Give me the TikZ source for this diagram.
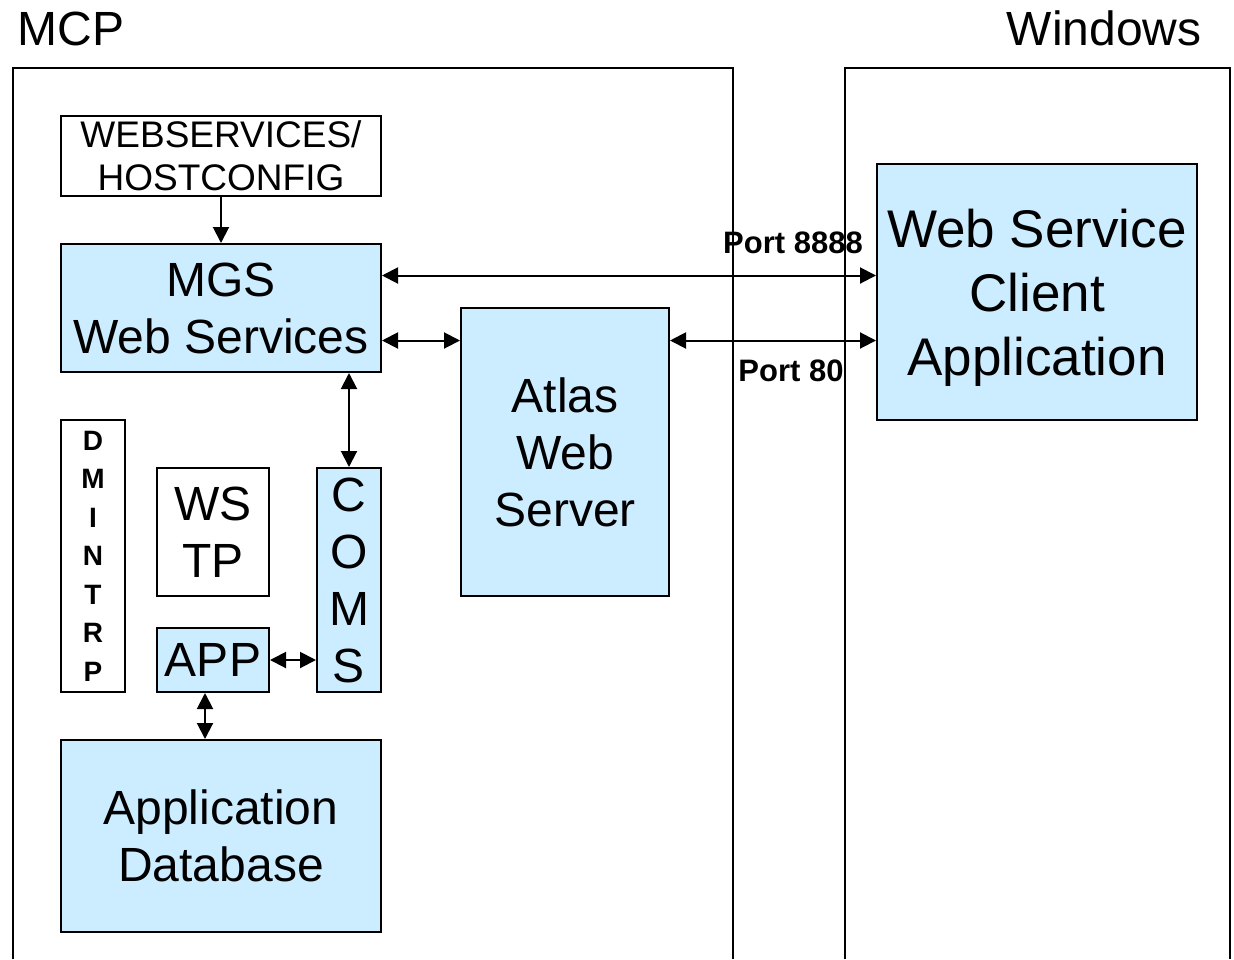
\documentclass[tikz,border=0pt]{standalone}
\usepackage{fontspec}
\setmainfont{Liberation Sans}
\usepackage{xcolor}
\definecolor{wsblue}{RGB}{204, 236, 255}
\usetikzlibrary{calc}
\usetikzlibrary{arrows.meta}
\tikzset{
box/.style={draw,line width=1pt,inner sep=0pt,align=center,font=\fontsize{24}{28.5}\selectfont},
bluebox/.style={box,fill=wsblue},
onearr/.style={line width=1pt,-{Triangle[length=8pt,width=8pt]}},
twoarr/.style={line width=1pt,{Triangle[length=8pt,width=8pt]}-{Triangle[length=8pt,width=8pt]}},
port/.style={inner sep=0pt,font=\fontsize{15.5}{18}\selectfont\bfseries},
sidelbl/.style={inner sep=0pt,font=\fontsize{24}{28}\selectfont},
}

\begin{document}
\begin{tikzpicture}[x=0.5pt,y=-0.5pt]
\useasboundingbox (0,0) rectangle (1234,959);
\draw[line width=1pt] (13,959) -- (13,68) -- (733,68) -- (733,959);
\draw[line width=1pt] (845,959) -- (845,68) -- (1230,68) -- (1230,959);
\node[sidelbl,anchor=base west] (mcp) at (17,45) {MCP};
\node[sidelbl,anchor=base east] (win) at (1202,45) {Windows};
\node[box,minimum width=160pt,minimum height=40pt,font=\fontsize{18.5}{21.5}\selectfont] (hostcfg) at (221,156) {WEBSERVICES/\\HOSTCONFIG};
\node[bluebox,minimum width=160pt,minimum height=64pt] (mgs) at (221,308) {MGS\\Web Services};
\node[bluebox,minimum width=104pt,minimum height=144pt] (atlas) at (565,452) {Atlas\\Web\\Server};
\node[bluebox,minimum width=160pt,minimum height=128pt,text depth=0pt,font=\fontsize{26.5}{32}\selectfont] (client) at (1037,292) {Web Service\\Client\\Application};
\node[box,minimum width=32pt,minimum height=136pt,font=\fontsize{14}{19.25}\selectfont\bfseries] (dmintrp) at (93,556) {D\\M\\I\\N\\T\\R\\P};
\node[box,minimum width=56pt,minimum height=64pt] (wstp) at (213,532) {WS\\TP};
\node[bluebox,minimum width=56pt,minimum height=32pt] (app) at (213,660) {APP};
\node[bluebox,minimum width=32pt,minimum height=112pt] (coms) at (349,580) {C\\O\\M\\S};
\node[bluebox,minimum width=160pt,minimum height=96pt] (appdb) at (221,836) {Application\\Database};
\coordinate (p8888) at ($(mgs.north east)!.25!(mgs.south east)$);
\coordinate (p80) at ($(mgs.north east)!.75!(mgs.south east)$);
\coordinate (dbtop) at ($(app.south)+(-8,0)$);
\draw[onearr] (hostcfg) -- (mgs);
\draw[twoarr] (p8888) -- (p8888 -| client.west);
\draw[twoarr] (p80) -- (p80 -| atlas.west);
\draw[twoarr] (p80 -| atlas.east) -- (p80 -| client.west);
\draw[twoarr] (coms.north |- mgs.south) -- (coms.north);
\draw[twoarr] (app.east) -- (app.east -| coms.west);
\draw[twoarr] (dbtop) -- (dbtop |- appdb.north);
\node[port,anchor=base] (lbl8888) at (793,253) {Port 8888};
\node[port,anchor=base] (lbl80) at (791,381) {Port 80};
\end{tikzpicture}
\end{document}
